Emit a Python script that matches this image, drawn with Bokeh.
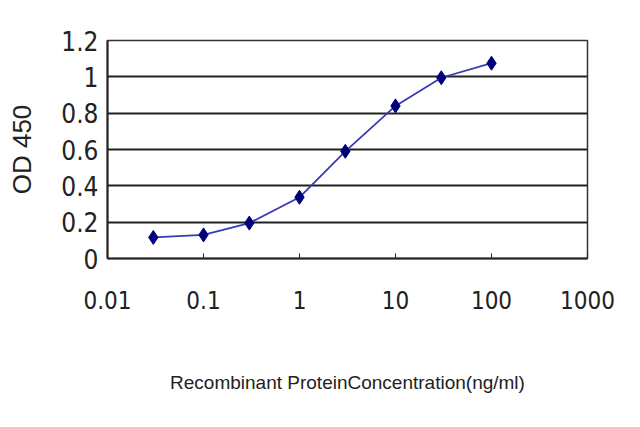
from bokeh.plotting import figure
from bokeh.models import FixedTicker, Range1d
from bokeh.embed import file_html
from bokeh.resources import INLINE

conc = [0.03, 0.1, 0.3, 1, 3, 10, 30, 100]
od = [0.116, 0.13, 0.195, 0.337, 0.59, 0.84, 0.995, 1.075]
x_ticks = [0.01, 0.1, 1, 10, 100, 1000]
x_tick_labels = ["0.01", "0.1", "1", "10", "100", "1000"]
y_ticks = [0, 0.2, 0.4, 0.6, 0.8, 1.0, 1.2]
y_tick_labels = ["0", "0.2", "0.4", "0.6", "0.8", "1", "1.2"]

p = figure(width=624, height=411, x_axis_type="log", output_backend="svg",
           toolbar_location=None, x_range=Range1d(0.01, 1000), y_range=Range1d(0, 1.2),
           min_border_left=107, min_border_right=37, min_border_top=40, min_border_bottom=153)

p.line(conc, od, line_color="#3a3ab4", line_width=1.8)
p.scatter(conc, od, marker="diamond", size=14, fill_color="#00007a", line_color="#00007a")

font = "DejaVu Sans Condensed"
p.xaxis.ticker = FixedTicker(ticks=x_ticks)
p.xaxis.major_label_overrides = {t: l for t, l in zip(x_ticks, x_tick_labels)}
p.yaxis.ticker = FixedTicker(ticks=y_ticks)
p.yaxis.major_label_overrides = {t: l for t, l in zip(y_ticks, y_tick_labels)}

for ax in (p.xaxis[0], p.yaxis[0]):
    ax.axis_line_color = "#222222"
    ax.axis_line_width = 2
    ax.major_label_text_font = font
    ax.major_label_text_color = "#222222"
    ax.axis_label_text_font_style = "normal"
    ax.axis_label_text_color = "#222222"
    ax.minor_tick_line_color = None

p.xaxis.major_tick_in = 5
p.xaxis.major_tick_out = 0
p.xaxis.major_tick_line_color = "#222222"
p.xaxis.major_label_text_font_size = "24px"
p.xaxis.major_label_standoff = 32
p.xaxis.axis_label = "Recombinant ProteinConcentration(ng/ml)"
p.xaxis.axis_label_text_font = "Liberation Sans"
p.xaxis.axis_label_text_font_size = "19px"
p.xaxis.axis_label_standoff = 60

p.yaxis.major_tick_in = 0
p.yaxis.major_tick_out = 0
p.yaxis.major_label_text_font_size = "26px"
p.yaxis.major_label_standoff = 9
p.yaxis.axis_label = "OD 450"
p.yaxis.axis_label_text_font = "Liberation Sans"
p.yaxis.axis_label_text_font_size = "26px"
p.yaxis.axis_label_standoff = 21

p.xgrid.grid_line_color = None
p.ygrid.grid_line_color = "#222222"
p.ygrid.grid_line_width = 2
p.outline_line_color = "#333333"
p.outline_line_width = 1.5

open("out.html", "w").write(file_html(p, INLINE))
